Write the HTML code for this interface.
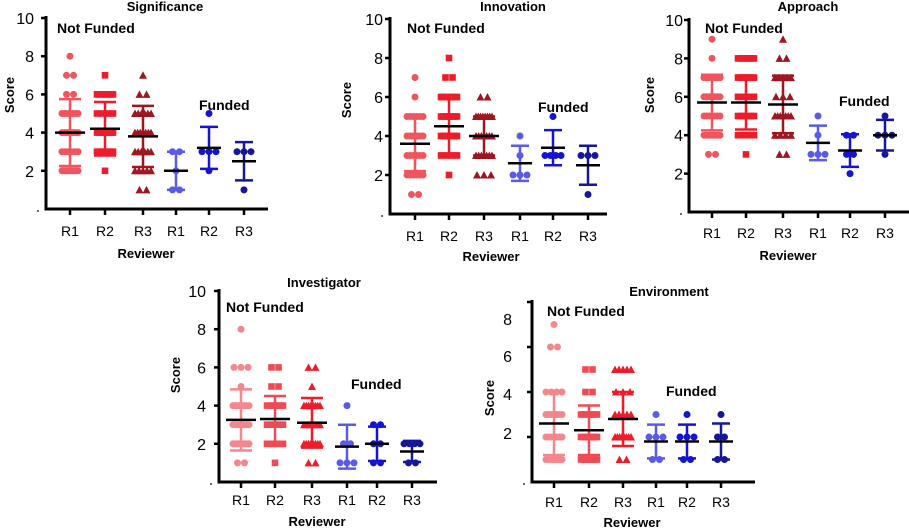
<!DOCTYPE html>
<html><head><meta charset="utf-8"><style>
html,body{margin:0;padding:0;background:#fff;}
svg{display:block;font-family:"Liberation Sans",Arial,sans-serif;}
</style></head><body>
<svg id="chart" width="909" height="528" viewBox="0 0 909 528"></svg>
<script>
// ---- data (score, count) per reviewer group: NF R1, NF R2, NF R3, F R1, F R2, F R3 ----
const groupLabels = ["R1","R2","R3","R1","R2","R3"];
const yTicks = [2,4,6,8,10];
const yTicksEnv = [2,4,6,8];

const sigValues = [[[8,1],[7,2],[6,2],[5,7],[4,8],[3,6],[2,8]],[[7,1],[6,8],[5,4],[4,7],[3,7],[2,1]],[[7,1],[6,2],[5,6],[4,7],[3,6],[2,5],[1,2]],[[3,2],[2,1],[1,2]],[[5,1],[3,3],[2,1]],[[3,3],[1,1]]];
const sigMeans = [4.0,4.2,3.8,2.0,3.2,2.5];
const sigSds = [1.75,1.4,1.6,1.0,1.1,1.0];

const innValues = [[[7,1],[6,1],[5,6],[4,7],[3,6],[2,6],[1,2]],[[8,1],[7,2],[6,8],[5,8],[4,8],[3,4],[2,1]],[[6,2],[5,8],[4,7],[3,7],[2,3]],[[4,1],[3,1],[2,3]],[[5,1],[3,4]],[[3,3],[1,1]]];
const innMeans = [3.6,4.5,4.0,2.6,3.4,2.5];
const innSds = [1.4,1.4,1.0,0.9,0.9,1.0];

const appValues = [[[9,1],[8,1],[7,7],[6,7],[5,7],[4,7],[3,2]],[[8,8],[7,8],[6,8],[5,6],[4,7],[3,1]],[[9,1],[8,2],[7,5],[6,3],[5,7],[4,4],[3,2]],[[5,1],[4,1],[3,3]],[[4,2],[3,2],[2,1]],[[5,1],[4,3],[3,1]]];
const appMeans = [5.7,5.7,5.6,3.6,3.2,4.0];
const appSds = [1.45,1.4,1.5,0.9,0.85,0.8];

const invValues = [[[8,1],[6,3],[5,1],[4,7],[3,7],[2,7],[1,2]],[[6,2],[5,2],[4,6],[3,7],[2,7],[1,1]],[[6,2],[5,1],[4,8],[3,6],[2,8],[1,2]],[[4,1],[2,2],[1,3]],[[3,2],[2,2],[1,2]],[[2,4],[1,2]]];
const invMeans = [3.25,3.3,3.1,1.85,2.0,1.6];
const invSds = [1.6,1.2,1.3,1.15,0.9,0.55];

const envValues = [[[7,1],[6,2],[4,4],[3,7],[2,7],[1,8]],[[5,2],[4,2],[3,7],[2,7],[1,8]],[[5,5],[4,3],[3,5],[2,8],[1,2]],[[3,1],[2,3],[1,2]],[[3,1],[2,3],[1,2]],[[3,1],[2,2],[1,2]]];
const envMeans = [2.6,2.3,2.8,1.8,1.8,1.8];
const envSds = [1.4,1.1,1.2,0.75,0.75,0.8];

const NS="http://www.w3.org/2000/svg";
const svg=document.getElementById('chart');
function mk(tag,attrs,parent,text){const e=document.createElementNS(NS,tag);for(const k in attrs)e.setAttribute(k,attrs[k]);if(text!==undefined)e.textContent=text;(parent||svg).appendChild(e);return e;}

const colsA=["#f0555f","#ee1c2a","#9e1620","#5a5ae8","#1414d2","#16169a"];
const colsB=["#f4878e","#f04b55","#ee1c2a","#5a5ae8","#1414d2","#16169a"];
const shapes=["c","s","t","c","c","c"];

const panels=[
 {key:"significance",title:"Significance",values:sigValues,means:sigMeans,sds:sigSds,ticks:yTicks,ax:46,y0:209,unit:19.1,xEnd:268,centers:[70,105,143,176,209,244],titleX:165,titleY:11,nfX:57,nfY:33,fX:199,fY:110,scoreX:14,scoreY:95,revX:146,revY:258,rlY:236,tlR:34,cols:colsA,labelDy:null},
 {key:"innovation",title:"Innovation",values:innValues,means:innMeans,sds:innSds,ticks:yTicks,ax:390,y0:214,unit:19.5,xEnd:607,centers:[415,449,484,520,553,588],titleX:513,titleY:11,nfX:407,nfY:33,fX:538,fY:112,scoreX:351,scoreY:100,revX:491,revY:261,rlY:241,tlR:383,cols:colsA,labelDy:null},
 {key:"approach",title:"Approach",values:appValues,means:appMeans,sds:appSds,ticks:yTicks,ax:689,y0:212,unit:19.2,xEnd:909,centers:[712,746,783,818,850,885],titleX:808,titleY:11,nfX:705,nfY:33,fX:839,fY:106,scoreX:654,scoreY:95,revX:788,revY:260,rlY:238,tlR:683,cols:colsA,labelDy:null},
 {key:"investigator",title:"Investigator",values:invValues,means:invMeans,sds:invSds,ticks:yTicks,ax:219,y0:482,unit:19.1,xEnd:437,centers:[241,275,312,347,377,412],titleX:324,titleY:287,nfX:226,nfY:312,fX:351,fY:389,scoreX:180,scoreY:375,revX:317,revY:526,rlY:505,tlR:206,cols:colsB,labelDy:null},
 {key:"environment",title:"Environment",values:envValues,means:envMeans,sds:envSds,ticks:yTicksEnv,ax:532,y0:482,unit:22.5,xEnd:755,centers:[554,589,623,656,687,721],titleX:669,titleY:296,nfX:547,nfY:316,fX:666,fY:396,scoreX:494,scoreY:398,revX:632,revY:527,rlY:507,tlR:512,cols:colsB,labelDy:[-4,2,9,17]}
];

function marker(g,shape,cx,cy,col){
  let e;
  if(shape==="c") e=mk('circle',{cx:cx,cy:cy,r:3.5,fill:col},g);
  else if(shape==="s") e=mk('rect',{x:cx-3.3,y:cy-3.3,width:6.6,height:6.6,fill:col},g);
  else e=mk('polygon',{points:`${cx},${cy-4} ${cx-4},${cy+3.5} ${cx+4},${cy+3.5}`,fill:col},g);
  
  
}

panels.forEach(p=>{
  const g=mk('g',{});
  
  
  const y=v=>p.y0-v*p.unit;
  const topV=p.ticks[p.ticks.length-1];
  const ya=mk('line',{x1:p.ax,y1:y(topV)-2,x2:p.ax,y2:p.y0,stroke:"#000","stroke-width":3},g);
  
  const xa=mk('line',{x1:p.ax-1.5,y1:p.y0,x2:p.xEnd,y2:p.y0,stroke:"#000","stroke-width":3},g);
  
  mk('circle',{cx:p.ax-8,cy:p.y0+2,r:0.9,fill:"#000"},g);
  p.ticks.forEach((t,i)=>{
    mk('line',{x1:p.ax-5,y1:y(t),x2:p.ax,y2:y(t),stroke:"#000","stroke-width":2.5},g);
    const dy=p.labelDy?p.labelDy[i]:0;
    const tl=mk('text',{x:p.tlR,y:y(t)+dy+6,"text-anchor":"end","font-size":16,fill:"#000"},g,String(t));
    
  });
  p.centers.forEach((c,i)=>{
    mk('line',{x1:c,y1:p.y0,x2:c,y2:p.y0+6,stroke:"#000","stroke-width":2.5},g);
    const xl=mk('text',{x:c,y:p.rlY,"text-anchor":"middle","font-size":14,fill:"#000"},g,groupLabels[i]);
    
  });
  p.values.forEach((grp,i)=>{
    const c=p.centers[i], col=p.cols[i];
    const sg=mk('g',{},g);
    
    
    grp.forEach(([v,n])=>{
      const sp=n>1?Math.min(7,16/(n-1)):0;
      for(let k=0;k<n;k++){marker(sg,shapes[i],c+(k-(n-1)/2)*sp,y(v),col);}
    });
    const m=p.means[i], s=p.sds[i];
    const cw=i<3?11:9;
    mk('line',{x1:c,y1:y(m+s),x2:c,y2:y(m-s),stroke:col,"stroke-width":2.5},sg);
    mk('line',{x1:c-cw,y1:y(m+s),x2:c+cw,y2:y(m+s),stroke:col,"stroke-width":2.5},sg);
    mk('line',{x1:c-cw,y1:y(m-s),x2:c+cw,y2:y(m-s),stroke:col,"stroke-width":2.5},sg);
    const mw=i<3?15:12;
    const ml=mk('line',{x1:c-mw,y1:y(m),x2:c+mw,y2:y(m),stroke:"#000","stroke-width":2.5},sg);
    
  });
  const t=mk('text',{x:p.titleX,y:p.titleY,"text-anchor":"middle","font-size":13,"font-weight":"bold"},g,p.title);
  
  const nf=mk('text',{x:p.nfX,y:p.nfY,"font-size":14,"font-weight":"bold"},g,"Not Funded");
  
  const f=mk('text',{x:p.fX,y:p.fY,"font-size":14,"font-weight":"bold"},g,"Funded");
  
  const sc=mk('text',{x:p.scoreX,y:p.scoreY,"text-anchor":"middle","font-size":13,"font-weight":"bold",transform:`rotate(-90 ${p.scoreX} ${p.scoreY})`},g,"Score");
  
  const rv=mk('text',{x:p.revX,y:p.revY,"text-anchor":"middle","font-size":13,"font-weight":"bold"},g,"Reviewer");
  
});
</script>
</body></html>
